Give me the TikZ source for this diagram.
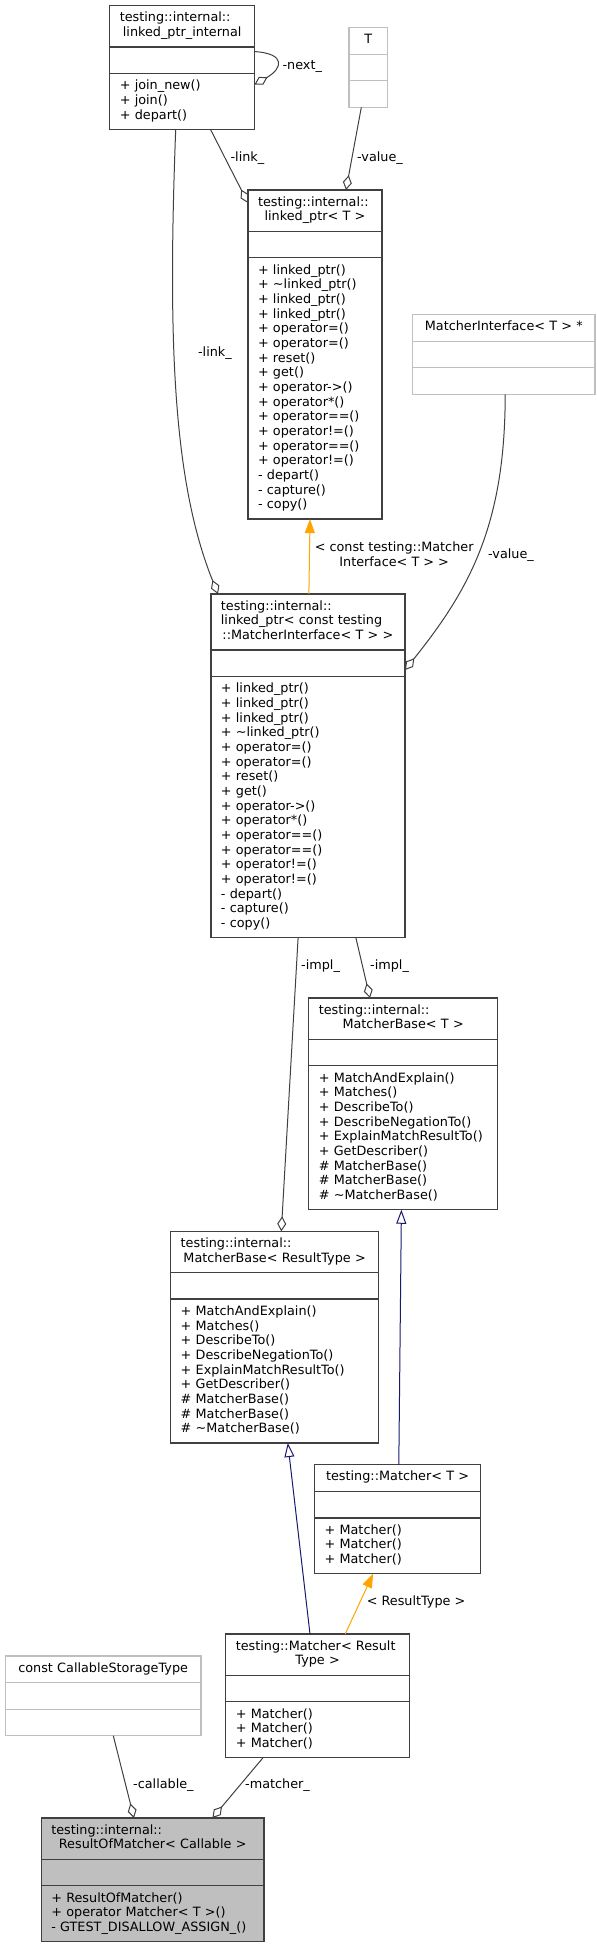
\documentclass[tikz,border=0pt]{standalone}
\usepackage{fontspec}
\setmainfont{DejaVu Sans}
\usepackage{tikz}
\usetikzlibrary{arrows.meta}
\usetikzlibrary{shapes.multipart}
\definecolor{edgegray}{HTML}{404040}
\definecolor{extgray}{HTML}{BFBFBF}
\definecolor{inhblue}{HTML}{191970}
\definecolor{tplorange}{HTML}{FFA500}

\begin{document}
\begin{tikzpicture}[x=1pt,y=-1pt,
		class node/.style={rectangle split,rectangle split parts=3,draw=edgegray,
			line width=1.3pt,align=left,inner xsep=10pt,inner ysep=5.3pt,outer sep=0pt,
			anchor=north west,font=\fontsize{12.8}{14.67}\selectfont},
		ext node/.style={class node,draw=extgray},
		focus node/.style={class node,fill=extgray},
		label node/.style={anchor=base west,inner sep=0pt,
			font=\fontsize{12.8}{14.67}\selectfont},
		agg/.style={draw=edgegray,line width=1pt,
			-{Diamond[open,length=15pt,width=9pt]}},
		inherit/.style={draw=inhblue,line width=1pt,
			-{Triangle[open,length=14pt,width=10pt]}},
		tmpl/.style={draw=tplorange,line width=1pt,
			-{Triangle[length=14pt,width=10pt,fill=tplorange]}}]
	\useasboundingbox (0,0) rectangle (597,1944);
	
	% classes
	\node[class node,text width=124.7pt] (lpi) at (109.8,5.7)
	{\strut testing::internal::\\\makebox[\linewidth]{linked\_ptr\_internal\strut}
		\nodepart{two}\strut
		\nodepart{three}\strut + join\_new()\\+ join()\\+ depart()\strut};
	\node[ext node,text width=18.7pt] (tparam) at (349,27.7)
	{\makebox[\linewidth]{T\strut}
		\nodepart{two}\strut
		\nodepart{three}\strut};
	\node[class node,text width=114pt] (lpT) at (248,190)
	{\strut testing::internal::\\\makebox[\linewidth]{linked\_ptr<~T~>\strut}
		\nodepart{two}\strut
		\nodepart{three}\strut + linked\_ptr()\\+ \textasciitilde linked\_ptr()\\+ linked\_ptr()\\
		+ linked\_ptr()\\+ operator=()\\+ operator=()\\+ reset()\\+ get()\\
		+ operator->()\\+ operator*()\\+ operator==()\\+ operator!=()\\
		+ operator==()\\+ operator!=()\\- depart()\\- capture()\\- copy()\strut};
	\node[ext node,text width=162.5pt] (mi) at (412.6,314.7)
	{\makebox[\linewidth]{MatcherInterface<~T~>~*\strut}
		\nodepart{two}\strut
		\nodepart{three}\strut};
	\node[class node,text width=174pt] (lpc) at (210.9,594)
	{\strut testing::internal::\\linked\_ptr<~const~testing\\
		\makebox[\linewidth]{::MatcherInterface<~T~>~>\strut}
		\nodepart{two}\strut
		\nodepart{three}\strut + linked\_ptr()\\+ linked\_ptr()\\+ linked\_ptr()\\
		+ \textasciitilde linked\_ptr()\\+ operator=()\\+ operator=()\\+ reset()\\+ get()\\
		+ operator->()\\+ operator*()\\+ operator==()\\+ operator==()\\
		+ operator!=()\\+ operator!=()\\- depart()\\- capture()\\- copy()\strut};
	\node[class node,text width=168.7pt] (mbT) at (308.8,998)
	{\strut testing::internal::\\\makebox[\linewidth]{MatcherBase<~T~>\strut}
		\nodepart{two}\strut
		\nodepart{three}\strut + MatchAndExplain()\\+ Matches()\\+ DescribeTo()\\
		+ DescribeNegationTo()\\+ ExplainMatchResultTo()\\+ GetDescriber()\\
		\# MatcherBase()\\\# MatcherBase()\\\# \textasciitilde MatcherBase()\strut};
	\node[class node,text width=187.8pt] (mbR) at (170.7,1231.3)
	{\strut testing::internal::\\\makebox[\linewidth]{MatcherBase<~ResultType~>\strut}
		\nodepart{two}\strut
		\nodepart{three}\strut + MatchAndExplain()\\+ Matches()\\+ DescribeTo()\\
		+ DescribeNegationTo()\\+ ExplainMatchResultTo()\\+ GetDescriber()\\
		\# MatcherBase()\\\# MatcherBase()\\\# \textasciitilde MatcherBase()\strut};
	\node[class node,text width=146pt] (mT) at (314.6,1464.7)
	{\makebox[\linewidth]{testing::Matcher<~T~>\strut}
		\nodepart{two}\strut
		\nodepart{three}\strut + Matcher()\\+ Matcher()\\+ Matcher()\strut};
	\node[class node,text width=163.7pt] (mR) at (225.8,1634)
	{\strut testing::Matcher<~Result\\\makebox[\linewidth]{Type~>\strut}
		\nodepart{two}\strut
		\nodepart{three}\strut + Matcher()\\+ Matcher()\\+ Matcher()\strut};
	\node[ext node,text width=175.5pt] (cst) at (5.4,1656)
	{\makebox[\linewidth]{const~CallableStorageType\strut}
		\nodepart{two}\strut
		\nodepart{three}\strut};
	\node[focus node,text width=202.8pt] (rom) at (41.3,1818)
	{\strut testing::internal::\\\makebox[\linewidth]{ResultOfMatcher<~Callable~>\strut}
		\nodepart{two}\strut
		\nodepart{three}\strut + ResultOfMatcher()\\+ operator Matcher<~T~>()\\
		- GTEST\_DISALLOW\_ASSIGN\_()\strut};
	
	% members
	\draw[agg] ([yshift=16pt]lpi.east) .. controls +(32,2) and +(28,-16) .. ([yshift=-17pt]lpi.east);
	\draw[agg] ([xshift=100.7pt]lpi.south west) -- ([yshift=-13pt]lpT.north west);
	\draw[agg] ([xshift=12.3pt]tparam.south west) -- ([xshift=98pt]lpT.north west);
	\draw[agg] ([xshift=65.9pt]lpi.south west) .. controls +(-7.7,204) and +(-46,-114) .. ([xshift=7.1pt]lpc.north west);
	\draw[agg] ([xshift=92.6pt]mi.south west) .. controls +(0,130) and +(65,-81) .. ([yshift=-76pt]lpc.north east);
	\draw[agg] ([xshift=87.2pt]lpc.south west) -- ([xshift=110.6pt]mbR.north west);
	\draw[agg] ([xshift=145pt]lpc.south west) -- ([xshift=61.2pt]mbT.north west);
	\draw[agg] ([xshift=107.9pt]cst.south west) -- ([xshift=92.7pt]rom.north west);
	\draw[agg] ([xshift=37.2pt]mR.south west) -- ([xshift=171.1pt]rom.north west);
	
	% bases and templates
	\draw[tmpl] ([xshift=98pt]lpc.north west) -- ([xshift=62pt]lpT.south west);
	\draw[inherit] ([xshift=84.2pt]mT.north west) -- ([xshift=92.6pt]mbT.south west);
	\draw[inherit] ([xshift=84.2pt]mR.north west) -- ([xshift=117.1pt]mbR.south west);
	\draw[tmpl] ([xshift=119.4pt]mR.north west) -- ([xshift=58.5pt]mT.south west);
	
	% labels
	\node[label node] (lnext) at (282.4,69.5) {-next\_};
	\node[label node] (llink) at (230.4,161.2) {-link\_};
	\node[label node] (lvalue) at (357,161.2) {-value\_};
	\node[label node] (llinkc) at (197.9,356.2) {-link\_};
	\node[label node] (lvaluec) at (488,558.5) {-value\_};
	\node[label node,anchor=north west,align=center] (ltmpl) at (314.6,541.5)
	{<~const testing::Matcher\\Interface<~T~>~>};
	\node[label node] (limplR) at (301,969.5) {-impl\_};
	\node[label node] (limplT) at (370,969.5) {-impl\_};
	\node[label node] (lresult) at (366.6,1605.2) {<~ResultType~>};
	\node[label node] (lcall) at (133,1788.8) {-callable\_};
	\node[label node] (lmatch) at (245,1788.8) {-matcher\_};
\end{tikzpicture}
\end{document}
